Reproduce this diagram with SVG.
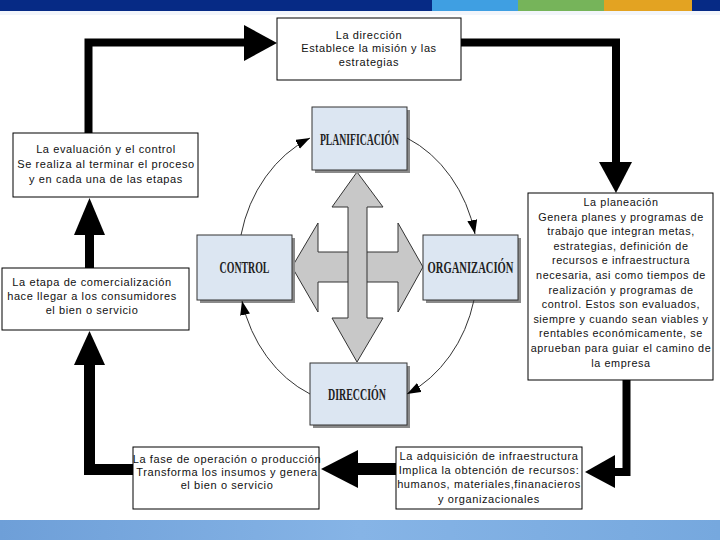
<svg xmlns="http://www.w3.org/2000/svg" width="720" height="540" viewBox="0 0 720 540">
<defs>
<style>
.box{fill:#fff;stroke:#000;stroke-width:1}
.t{font-family:"Liberation Sans",Arial,sans-serif;font-size:11px;letter-spacing:0.6px;fill:#111;text-anchor:middle}
.tp{font-family:"Liberation Sans",Arial,sans-serif;font-size:10.8px;letter-spacing:0.6px;fill:#111;text-anchor:middle}
.cb{fill:#dce6f2;stroke:#333;stroke-width:1}
.sh{fill:#8a8a8a}
.ct{font-family:"Liberation Serif","Times New Roman",serif;font-weight:bold;font-size:17px;fill:#222;text-anchor:middle}
.thick{fill:none;stroke:#000;stroke-linejoin:miter}
.head{fill:#000}
.arc{fill:none;stroke:#333;stroke-width:1;marker-end:url(#ah)}
</style>
<marker id="ah" markerUnits="userSpaceOnUse" markerWidth="16" markerHeight="12" refX="14" refY="5" orient="auto">
<path d="M0,0 L14,5 L0,10 z" fill="#000"/>
</marker>
<linearGradient id="band" x1="0" y1="0" x2="1" y2="0">
<stop offset="0" stop-color="#6e9fd8"/>
<stop offset="0.5" stop-color="#86b4e6"/>
<stop offset="1" stop-color="#76a8de"/>
</linearGradient>
</defs>
<rect width="720" height="540" fill="#fff"/>
<!-- top bar -->
<rect x="0" y="0" width="432" height="11" fill="#062a85"/>
<rect x="432" y="0" width="86" height="11" fill="#3f9fe2"/>
<rect x="518" y="0" width="86" height="11" fill="#76b45a"/>
<rect x="604" y="0" width="88" height="11" fill="#e3a322"/>
<rect x="692" y="0" width="28" height="11" fill="#062a85"/>
<rect x="0" y="11" width="720" height="4" fill="#f2f5fb"/>
<!-- bottom band -->
<rect x="0" y="520" width="720" height="20" fill="url(#band)"/>

<!-- central cycle -->
<g id="cross">
<polygon points="292,267 318,223 318,252 398,252 398,223 423,267 398,312 398,282 318,282 318,312" fill="#c8c8c8" stroke="#333" stroke-width="1"/>
<polygon points="357,172 383,207 367,207 367,318 383,318 357,362 332,318 348,318 348,207 332,207" fill="#c8c8c8" stroke="#333" stroke-width="1"/>
</g>
<g id="planificacion">
<rect class="sh" x="315" y="110" width="95" height="63"/>
<rect class="cb" x="312" y="107" width="95" height="63"/>
<text class="ct" transform="translate(359.5,145) scale(0.571,1)">PLANIFICACIÓN</text>
</g>
<g id="control">
<rect class="sh" x="200" y="238" width="95" height="65"/>
<rect class="cb" x="197" y="235" width="95" height="65"/>
<text class="ct" transform="translate(244.5,273) scale(0.58,1)">CONTROL</text>
</g>
<g id="organizacion">
<rect class="sh" x="426" y="238" width="95" height="65"/>
<rect class="cb" x="423" y="235" width="95" height="65"/>
<text class="ct" transform="translate(470.5,273) scale(0.624,1)">ORGANIZACIÓN</text>
</g>
<g id="direccion-c">
<rect class="sh" x="313" y="366" width="97" height="62"/>
<rect class="cb" x="310" y="363" width="97" height="62"/>
<text class="ct" transform="translate(357,400) scale(0.585,1)">DIRECCIÓN</text>
</g>
<g id="cycle-arcs">
<path class="arc" d="M241,235 A120,140 0 0 1 310,138"/>
<path class="arc" d="M407,138 A120,140 0 0 1 475,234"/>
<path class="arc" d="M474,300 A120,140 0 0 1 407,394"/>
<path class="arc" d="M310,394 A120,140 0 0 1 242,301"/>
</g>

<!-- text boxes -->
<g id="la-direccion">
<rect class="box" x="277" y="18" width="184" height="62"/>
<text class="t" x="369" y="39">La dirección</text>
<text class="t" x="369" y="52">Establece la misión y las</text>
<text class="t" x="369" y="66">estrategias</text>
</g>
<g id="evaluacion">
<rect class="box" x="13" y="133" width="185" height="64"/>
<text class="t" x="106" y="153">La evaluación y el control</text>
<text class="t" x="106" y="168">Se realiza al terminar el proceso</text>
<text class="t" x="106" y="183">y en cada una de las etapas</text>
</g>
<g id="comercializacion">
<rect class="box" x="2" y="268" width="187" height="62"/>
<text class="t" x="92" y="286">La etapa de comercialización</text>
<text class="t" x="92" y="300">hace llegar a los consumidores</text>
<text class="t" x="92" y="314">el bien o servicio</text>
</g>
<g id="planeacion">
<rect class="box" x="528" y="193" width="185" height="187"/>
<text class="tp" x="621" y="206">La planeación</text>
<text class="tp" x="621" y="220.6">Genera planes y programas de</text>
<text class="tp" x="621" y="235.2">trabajo que integran metas,</text>
<text class="tp" x="621" y="249.8">estrategias, definición de</text>
<text class="tp" x="621" y="264.4">recursos e infraestructura</text>
<text class="tp" x="621" y="279">necesaria, asi como tiempos de</text>
<text class="tp" x="621" y="293.6">realización y programas de</text>
<text class="tp" x="621" y="308.2">control. Estos son evaluados,</text>
<text class="tp" x="621" y="322.8">siempre y cuando sean viables y</text>
<text class="tp" x="621" y="337.4">rentables económicamente, se</text>
<text class="tp" x="621" y="352">aprueban para guiar el camino de</text>
<text class="tp" x="621" y="366.6">la empresa</text>
</g>
<g id="adquisicion">
<rect class="box" x="396" y="447" width="186" height="62"/>
<text class="t" x="489" y="460">La adquisición de infraestructura</text>
<text class="t" x="489" y="474">Implica la obtención de recursos:</text>
<text class="t" x="489" y="488">humanos, materiales,finanacieros</text>
<text class="t" x="489" y="503">y organizacionales</text>
</g>
<g id="fase">
<rect class="box" x="133" y="447" width="186" height="62"/>
<text class="t" x="227" y="463">La fase de operación o producción</text>
<text class="t" x="227" y="476">Transforma los insumos y genera</text>
<text class="t" x="227" y="489">el bien o servicio</text>
</g>

<!-- thick process connectors -->
<g id="connectors">
<polyline class="thick" stroke-width="8" points="88.5,133 88.5,42.5 245,42.5"/>
<polygon class="head" points="244,25 277,43 244,61"/>
<polyline class="thick" stroke-width="8" points="461,42.5 616,42.5 616,163"/>
<polygon class="head" points="599,162 632,162 616,193"/>
<polyline class="thick" stroke-width="8" points="626.5,380 626.5,472 613,472"/>
<polygon class="head" points="615,455 585,472 615,488"/>
<line class="thick" stroke-width="12" x1="396" y1="469" x2="356" y2="469"/>
<polygon class="head" points="358,450 321,469 358,488"/>
<polyline class="thick" stroke-width="11" points="133,469.5 89.5,469.5 89.5,364"/>
<polygon class="head" points="74,365 105,365 89.5,331"/>
<line class="thick" stroke-width="9" x1="89.5" y1="268" x2="89.5" y2="234"/>
<polygon class="head" points="74,235 105,235 89.5,198"/>
</g>
</svg>
